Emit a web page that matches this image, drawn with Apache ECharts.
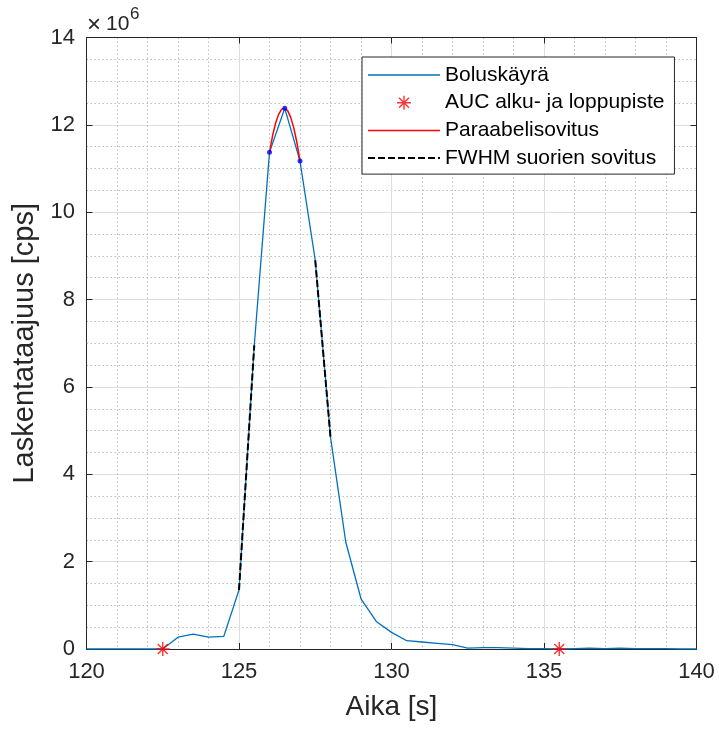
<!DOCTYPE html>
<html>
<head>
<meta charset="utf-8">
<script src="https://cdn.jsdelivr.net/npm/echarts@6/dist/echarts.min.js"></script>
<style>
html, body { margin: 0; padding: 0; background: #fff; }
#chart { width: 719px; height: 729px; }
</style>
</head>
<body>
<div id="chart"></div>
<script>
// bolus curve, counts in 1e6 cps
var times = [120, 120.5, 121, 121.5, 122, 122.5, 123, 123.5, 124, 124.5,
    125, 125.5, 126, 126.5, 127, 127.5, 128, 128.5, 129, 129.5,
    130, 130.5, 131, 131.5, 132, 132.5, 133, 133.5, 134, 134.5,
    135, 135.5, 136, 136.5, 137, 137.5, 138, 138.5, 139, 139.5, 140];
var counts = [0, 0, 0, 0, 0, 0, 0.27, 0.34, 0.27, 0.29,
    1.35, 6.95, 11.37, 12.38, 11.17, 8.9, 4.85, 2.45, 1.15, 0.63,
    0.38, 0.19, 0.16, 0.13, 0.1, 0.02, 0.03, 0.03, 0.02, 0.01,
    0.01, 0, 0.01, 0.02, 0.01, 0.02, 0.01, 0.01, 0.01, 0, 0];

// AUC start / end points
var aucTimes = [122.5, 135.5];
var aucCounts = [0, 0];

// parabola fit near the peak
var parabTimes = [126, 126.1, 126.2, 126.3, 126.4, 126.5, 126.6, 126.7, 126.8, 126.9, 127];
var parabCounts = [11.37, 11.75, 12.04, 12.24, 12.36, 12.38, 12.32, 12.16, 11.92, 11.59, 11.17];

// points used for the parabola
var fitTimes = [126, 126.5, 127];
var fitCounts = [11.37, 12.38, 11.17];

// FWHM line fits (rising and falling edge)
var fwhmRiseTimes = [125, 125.5];
var fwhmRiseCounts = [1.35, 6.95];
var fwhmFallTimes = [127.5, 128];
var fwhmFallCounts = [8.9, 4.85];

var xTicks = [120, 125, 130, 135, 140];
var yTicks = [0, 2, 4, 6, 8, 10, 12, 14];

function pairs(xs, ys) {
    var out = [];
    for (var i = 0; i < xs.length; i++) {
        out.push([xs[i], ys[i]]);
    }
    return out;
}

var axisColor = '#262626';
var fontFamily = '"Liberation Sans", Arial, Helvetica, sans-serif';
var starPath = 'path://M9,0L11,0L11,20L9,20Z M0,9L20,9L20,11L0,11Z ' +
    'M3.61,2.19L17.81,16.39L16.39,17.81L2.19,3.61Z M16.39,2.19L17.81,3.61L3.61,17.81L2.19,16.39Z';
// legend icons drawn as plain line strips
var solidIcon = 'path://M0,0L72,0L72,1.5L0,1.5Z';
var dashIcon = 'path://M0,0h7v2h-7z M10,0h7v2h-7z M20,0h7v2h-7z M30,0h7v2h-7z ' +
    'M40,0h7v2h-7z M50,0h7v2h-7z M60,0h7v2h-7z M70,0h2v2h-2z';

var myChart = echarts.init(document.getElementById('chart'));

var option = {
    animation: false,
    backgroundColor: '#fff',
    textStyle: { fontFamily: fontFamily },
    grid: {
        left: 86.5,
        right: 22.5,
        top: 37.5,
        bottom: 80
    },
    legend: {
        data: [
            { name: 'Boluskäyrä', icon: solidIcon },
            { name: 'AUC alku- ja loppupiste' },
            { name: 'Paraabelisovitus', icon: solidIcon },
            { name: 'FWHM suorien sovitus', icon: dashIcon }
        ],
        orient: 'vertical',
        left: 362,
        top: 57,
        padding: [7, 10, 5, 6],
        itemWidth: 72,
        itemHeight: 14,
        itemGap: 5.7,
        backgroundColor: '#fff',
        borderColor: axisColor,
        borderWidth: 1,
        borderRadius: 0,
        selectedMode: false,
        textStyle: {
            fontFamily: fontFamily,
            fontSize: 21,
            lineHeight: 22,
            color: '#000'
        }
    },
    xAxis: [{
        type: 'value',
        min: 120,
        max: 140,
        interval: 5,
        name: 'Aika [s]',
        nameLocation: 'middle',
        nameGap: 44,
        nameTextStyle: { fontSize: 28, color: axisColor, fontFamily: fontFamily },
        axisLine: { show: true, onZero: false, lineStyle: { color: axisColor, width: 1 } },
        axisTick: { show: true, inside: true, length: 6, lineStyle: { color: axisColor } },
        axisLabel: {
            fontSize: 22, color: axisColor, margin: 12,
            formatter: function (v) { return xTicks.indexOf(v) >= 0 ? String(v) : ''; }
        },
        splitLine: { show: true, lineStyle: { color: '#dedede', width: 1 } },
        minorTick: { show: false, splitNumber: 5 },
        minorSplitLine: { show: true, lineStyle: { color: '#bdbdbd', width: 1, type: [1.5, 2.5] } }
    }, {
        type: 'value',
        position: 'top',
        min: 120,
        max: 140,
        interval: 5,
        axisLine: { show: true, onZero: false, lineStyle: { color: axisColor, width: 1 } },
        axisTick: { show: true, inside: true, length: 6, lineStyle: { color: axisColor } },
        axisLabel: { show: false },
        splitLine: { show: false }
    }],
    yAxis: [{
        type: 'value',
        min: 0,
        max: 14,
        interval: 2,
        name: 'Laskentataajuus [cps]',
        nameLocation: 'middle',
        nameGap: 42,
        nameTextStyle: { fontSize: 29, color: axisColor, fontFamily: fontFamily },
        axisLine: { show: true, onZero: false, lineStyle: { color: axisColor, width: 1 } },
        axisTick: { show: true, inside: true, length: 6, lineStyle: { color: axisColor } },
        axisLabel: {
            fontSize: 22, color: axisColor, margin: 11.5,
            formatter: function (v) { return yTicks.indexOf(v) >= 0 ? String(v) : ''; }
        },
        splitLine: { show: true, lineStyle: { color: '#dedede', width: 1 } },
        minorTick: { show: false, splitNumber: 4 },
        minorSplitLine: { show: true, lineStyle: { color: '#bdbdbd', width: 1, type: [1.5, 2.5] } }
    }, {
        type: 'value',
        position: 'right',
        min: 0,
        max: 14,
        interval: 2,
        axisLine: { show: true, onZero: false, lineStyle: { color: axisColor, width: 1 } },
        axisTick: { show: true, inside: true, length: 6, lineStyle: { color: axisColor } },
        axisLabel: { show: false },
        splitLine: { show: false }
    }],
    graphic: [{
        type: 'text',
        left: 87,
        top: 13,
        style: { text: '×', fontSize: 24, fill: axisColor, fontFamily: fontFamily }
    }, {
        type: 'text',
        left: 106,
        top: 14,
        style: { text: '10', fontSize: 21, fill: axisColor, fontFamily: fontFamily }
    }, {
        type: 'text',
        left: 130,
        top: 6,
        style: { text: '6', fontSize: 17, fill: axisColor, fontFamily: fontFamily }
    }],
    series: [{
        name: 'Boluskäyrä',
        type: 'line',
        symbol: 'none',
        data: pairs(times, counts),
        lineStyle: { color: '#0072bd', width: 1.3 },
        itemStyle: { color: '#0072bd' },
        z: 2
    }, {
        name: 'AUC alku- ja loppupiste',
        type: 'scatter',
        symbol: starPath,
        symbolSize: 14,
        data: pairs(aucTimes, aucCounts),
        itemStyle: { color: '#ff0000' },
        z: 5
    }, {
        name: 'Paraabelisovitus',
        type: 'line',
        symbol: 'none',
        data: pairs(parabTimes, parabCounts),
        lineStyle: { color: '#ff0000', width: 1.5 },
        itemStyle: { color: '#ff0000' },
        z: 3
    }, {
        name: 'FWHM suorien sovitus',
        type: 'line',
        symbol: 'none',
        data: pairs(fwhmRiseTimes, fwhmRiseCounts),
        lineStyle: { color: '#000', width: 2, type: [7, 3] },
        itemStyle: { color: '#000' },
        z: 4
    }, {
        name: 'FWHM suorien sovitus',
        type: 'line',
        symbol: 'none',
        data: pairs(fwhmFallTimes, fwhmFallCounts),
        lineStyle: { color: '#000', width: 2, type: [7, 3] },
        itemStyle: { color: '#000' },
        z: 4
    }, {
        name: 'Sovituspisteet',
        type: 'scatter',
        symbol: 'circle',
        symbolSize: 5,
        data: pairs(fitTimes, fitCounts),
        itemStyle: { color: '#0000ff' },
        z: 6
    }]
};

myChart.setOption(option);
</script>
</body>
</html>
